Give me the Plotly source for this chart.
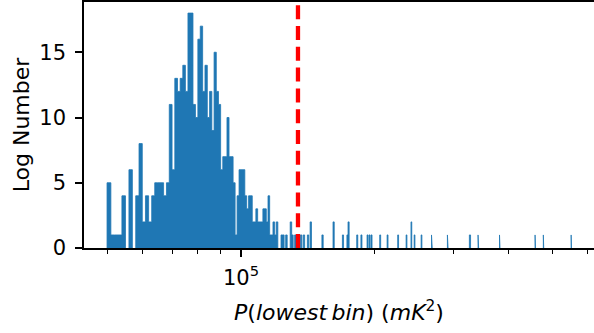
import plotly.graph_objects as go

# ---------------- data ----------------
BIN_WIDTH = 1000.0  # mK^2, linear bins
# left edges (mK^2) of the non-empty histogram bins
bin_left = [
    50000, 51000, 52000, 53000, 54000, 56000, 58000, 59000, 60000, 61000,
    62000, 63000, 64000, 65000, 66000, 67000, 68000, 69000, 70000, 71000,
    72000, 73000, 74000, 75000, 76000, 77000, 78000, 79000, 80000, 81000,
    82000, 83000, 84000, 85000, 86000, 87000, 88000, 89000, 90000, 91000,
    92000, 93000, 94000, 95000, 96000, 97000, 98000, 99000, 100000, 101000,
    102000, 103000, 104000, 105000, 106000, 107000, 108000, 109000, 110000, 111000,
    112000, 113000, 114000, 115000, 116000, 117000, 118000, 119000, 120000, 123000,
    124000, 126000, 129000, 130000, 132000, 133000, 134000, 136000, 138000, 141000,
    143000, 152000, 161000, 169000, 173000, 174000, 182000, 186000, 192000, 194000,
    196000, 205000, 213000, 225000, 235000, 241000, 245000, 254000, 268000, 291000,
    326000, 327000, 341000, 381000, 458000, 478000, 552000,
]
counts = [
    5, 1, 1, 1, 4, 6, 4, 8, 2, 4,
    2, 4, 5, 5, 5, 4, 5, 11, 6, 13,
    12, 13, 14, 12, 18, 18, 11, 10, 16, 17,
    12, 14, 10, 12, 9, 15, 12, 11, 6, 7,
    7, 10, 7, 7, 5, 1, 4, 6, 6, 6,
    4, 3, 4, 4, 2, 2, 3, 2, 2, 2,
    3, 3, 2, 4, 1, 1, 2, 1, 2, 1,
    1, 1, 2, 1, 1, 1, 1, 1, 1, 1,
    2, 1, 2, 1, 1, 2, 1, 1, 1, 1,
    1, 1, 1, 1, 1, 2, 1, 1, 1, 1,
    1, 1, 1, 1, 1, 1, 1,
]
THRESHOLD = 134300.0  # red dashed line position (mK^2)

x_tick_vals = [1e5]
x_tick_text = ["10<sup>5</sup>"]
x_minor_vals = [5e4, 6e4, 7e4, 8e4, 9e4, 2e5, 3e5, 4e5, 5e5, 6e5]
y_tick_vals = [0, 5, 10, 15]
X_RANGE_LOG = [4.6472, 5.7933]
Y_RANGE = [0, 18.85]

BAR_COLOR = "#1f77b4"
FONT = "DejaVu Sans"
TICK_SIZE = 21
LABEL_SIZE = 22

# ---------------- build step polygons (one per contiguous run of bins) ----------------
xs, ys = [], []
i = 0
n = len(bin_left)
while i < n:
    j = i
    while j + 1 < n and abs(bin_left[j + 1] - (bin_left[j] + BIN_WIDTH)) < 1e-6:
        j += 1
    xs.append(bin_left[i]); ys.append(0)
    for k in range(i, j + 1):
        xs += [bin_left[k], bin_left[k] + BIN_WIDTH]
        ys += [counts[k], counts[k]]
    xs.append(bin_left[j] + BIN_WIDTH); ys.append(0)
    xs.append(None); ys.append(None)
    i = j + 1

fig = go.Figure()
fig.add_trace(go.Scatter(
    x=xs, y=ys, mode="lines", fill="toself", fillcolor=BAR_COLOR,
    line=dict(color=BAR_COLOR, width=0.8), hoverinfo="skip", showlegend=False,
))
fig.add_trace(go.Scatter(
    x=[THRESHOLD, THRESHOLD], y=Y_RANGE, mode="lines",
    line=dict(color="#ff0000", width=4.3, dash="14px,6.8px"),
    hoverinfo="skip", showlegend=False,
))

fig.update_layout(
    width=594, height=333,
    margin=dict(l=84, r=0, t=2, b=85),
    paper_bgcolor="white", plot_bgcolor="white",
    font=dict(family=FONT, size=TICK_SIZE, color="black"),
    showlegend=False,
)
fig.update_xaxes(
    type="log", range=X_RANGE_LOG,
    tickvals=x_tick_vals, ticktext=x_tick_text,
    ticks="outside", ticklen=7, tickwidth=1.6, tickcolor="black",
    showline=True, linewidth=1.6, linecolor="black", mirror=True,
    showgrid=False, zeroline=False, ticklabelstandoff=3,
    tickfont=dict(family=FONT, size=TICK_SIZE, color="black"),
    minor=dict(tickvals=x_minor_vals, ticks="outside", ticklen=4,
               tickwidth=1.2, tickcolor="black", showgrid=False),
    title=dict(text="<i>P</i>(<i>lowest\u2009bin</i>) (<i>mK</i><sup>2</sup>)",
               font=dict(family=FONT, size=LABEL_SIZE, color="black"), standoff=16),
)
fig.update_yaxes(
    range=Y_RANGE, tickvals=y_tick_vals,
    ticks="outside", ticklen=7, tickwidth=1.6, tickcolor="black",
    showline=True, linewidth=1.6, linecolor="black", mirror=False,
    showgrid=False, zeroline=False, ticklabelstandoff=5,
    tickfont=dict(family=FONT, size=TICK_SIZE, color="black"),
    title=dict(text="Log Number", font=dict(family=FONT, size=LABEL_SIZE, color="black"),
               standoff=4),
)

fig.write_html("out.html")
